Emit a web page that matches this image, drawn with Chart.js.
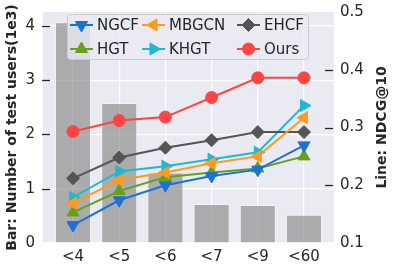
<!DOCTYPE html>
<html>
<head>
<meta charset="utf-8">
<script src="https://cdn.jsdelivr.net/npm/chart.js@4.4.0/dist/chart.umd.min.js"></script>
<style>
	html, body { margin: 0; padding: 0; background: #ffffff; }
	#wrap { width: 394px; height: 264px; }
</style>
</head>
<body>
<div id="wrap"><canvas id="myChart" width="394" height="264"></canvas></div>
<script>
// Data
const categories = ["<4", "<5", "<6", "<7", "<9", "<60"];
const users = [4.07, 2.58, 1.3, 0.72, 0.7, 0.52];
const ngcf = [0.131, 0.174, 0.2, 0.216, 0.227, 0.269];
const hgt = [0.153, 0.19, 0.214, 0.222, 0.229, 0.25];
const mbgcn = [0.169, 0.209, 0.222, 0.238, 0.25, 0.317];
const khgt = [0.179, 0.224, 0.233, 0.245, 0.257, 0.338];
const ehcf = [0.212, 0.248, 0.265, 0.278, 0.292, 0.292];
const ours = [0.293, 0.312, 0.318, 0.352, 0.386, 0.386];
const leftTicks = [0, 1, 2, 3, 4];
const rightTicks = [0.1, 0.2, 0.3, 0.4, 0.5];

const FONT = "'DejaVu Sans', sans-serif";
const TEXT = "#262626";

document.addEventListener("DOMContentLoaded", function () {
	const pts = (arr) => arr.map((v, i) => ({ x: i, y: v }));

	function lineSet(label, data, color, style, rotation, radius) {
		return {
			type: "line",
			label: label,
			data: pts(data),
			yAxisID: "y2",
			borderColor: color,
			backgroundColor: color,
			borderWidth: 2,
			pointStyle: style,
			rotation: rotation,
			pointRadius: radius,
			pointBorderWidth: 1,
			pointBorderColor: color,
			order: 1,
		};
	}

	const lines = [
		lineSet("NGCF", ngcf, "#1a73d2", "triangle", 180, 7),
		lineSet("MBGCN", mbgcn, "#ff9a1f", "triangle", 270, 7),
		lineSet("EHCF", ehcf, "#555555", "rectRot", 0, 6.5),
		lineSet("HGT", hgt, "#66a11c", "triangle", 0, 7),
		lineSet("KHGT", khgt, "#1fb8d3", "triangle", 90, 7),
		lineSet("Ours", ours, "#ff4444", "circle", 0, 6),
	];

	function marker(ctx, ds, x, y) {
		const opts = {
			pointStyle: ds.pointStyle,
			rotation: ds.rotation,
			radius: ds.pointRadius,
			borderWidth: 1,
		};
		ctx.fillStyle = ds.backgroundColor;
		ctx.strokeStyle = ds.borderColor;
		ctx.lineWidth = 1;
		Chart.helpers.drawPoint(ctx, opts, x, y);
	}

	// vertical scales: fixed width, no extra padding for the end labels
	function fixWidth(w) {
		return (s) => {
			s.width = w;
			s.paddingTop = 0;
			s.paddingBottom = 0;
		};
	}

	const extras = {
		id: "extras",
		afterDraw(chart) {
			const ctx = chart.ctx;
			const area = chart.chartArea;
			const y1 = chart.scales.y;
			const y2 = chart.scales.y2;
			ctx.save();

			// small tick marks like the original
			ctx.strokeStyle = TEXT;
			ctx.lineWidth = 1.3;
			leftTicks.slice(1).forEach((t) => {
				const py = Math.round(y1.getPixelForValue(t)) + 0.5;
				ctx.beginPath();
				ctx.moveTo(area.left - 1, py);
				ctx.lineTo(area.left + 7, py);
				ctx.stroke();
			});
			rightTicks.slice(1, -1).forEach((t) => {
				const py = Math.round(y2.getPixelForValue(t)) + 0.5;
				ctx.beginPath();
				ctx.moveTo(area.right - 9, py);
				ctx.lineTo(area.right - 1, py);
				ctx.stroke();
			});

			// axis titles
			ctx.fillStyle = TEXT;
			ctx.font = "bold 14px " + FONT;
			ctx.textAlign = "center";
			ctx.textBaseline = "middle";
			const midY = (area.top + area.bottom) / 2;
			ctx.save();
			ctx.translate(12, midY);
			ctx.rotate(-Math.PI / 2);
			ctx.fillText("Bar: Number of test users(1e3)", 0, 0);
			ctx.restore();
			ctx.save();
			ctx.translate(382, midY);
			ctx.rotate(-Math.PI / 2);
			ctx.fillText("Line: NDCG@10", 0, 0);
			ctx.restore();

			// legend inside the plot
			const bx = 67, by = 14, bw = 241, bh = 45;
			ctx.fillStyle = "rgba(234,234,242,0.8)";
			ctx.strokeStyle = "#cccccc";
			ctx.lineWidth = 1;
			ctx.beginPath();
			ctx.roundRect(bx + 0.5, by + 0.5, bw, bh, 3);
			ctx.fill();
			ctx.stroke();

			const cols = [70, 142, 237];
			const rows = [25, 49];
			ctx.font = "15px " + FONT;
			ctx.textAlign = "left";
			lines.forEach((ds, n) => {
				const cx = cols[n % 3];
				const cy = rows[Math.floor(n / 3)];
				ctx.strokeStyle = ds.borderColor;
				ctx.lineWidth = 2;
				ctx.beginPath();
				ctx.moveTo(cx, cy);
				ctx.lineTo(cx + 23, cy);
				ctx.stroke();
				marker(ctx, ds, cx + 11.5, cy);
				ctx.fillStyle = TEXT;
				ctx.fillText(ds.label, cx + 27, cy + 1);
			});
			ctx.restore();
		},
	};

	const ctx = document.getElementById("myChart").getContext("2d");
	const myChart = new Chart(ctx, {
		data: {
			datasets: [
				...lines,
				{
					type: "bar",
					label: "Users",
					data: pts(users),
					yAxisID: "y",
					backgroundColor: "rgba(128,128,128,0.6)",
					borderColor: "rgba(255,255,255,0.35)",
					borderWidth: 1,
					barPercentage: 0.78,
					categoryPercentage: 1,
					order: 10,
				},
			],
		},
		options: {
			responsive: false,
			animation: false,
			layout: { padding: { top: 12, left: 0, right: 0, bottom: 0 } },
			plugins: {
				legend: { display: false },
				tooltip: { enabled: false },
			},
			scales: {
				x: {
					type: "linear",
					offset: false,
					min: -0.65,
					max: 5.65,
					afterBuildTicks: (s) => {
						s.ticks = categories.map((c, i) => ({ value: i }));
					},
					afterFit: (s) => {
						s.height = 21;
					},
					ticks: {
						callback: (v) => categories[v],
						color: TEXT,
						font: { family: FONT, size: 15 },
						padding: 5,
						maxRotation: 0,
						autoSkip: false,
					},
					grid: { color: "#ffffff", lineWidth: 1.2, drawTicks: false, offset: false },
					border: { display: false },
				},
				y: {
					position: "left",
					min: 0,
					max: 4.258,
					afterBuildTicks: (s) => {
						s.ticks = leftTicks.map((v) => ({ value: v }));
					},
					afterFit: fixWidth(43),
					ticks: {
						color: TEXT,
						font: { family: FONT, size: 15 },
						padding: 8,
					},
					grid: { color: "#ffffff", lineWidth: 1.2, drawTicks: false },
					border: { display: false },
				},
				y2: {
					position: "right",
					min: 0.1,
					max: 0.5,
					afterBuildTicks: (s) => {
						s.ticks = rightTicks.map((v) => ({ value: v }));
					},
					afterFit: fixWidth(60),
					ticks: {
						callback: (v) => v.toFixed(1),
						color: TEXT,
						font: { family: FONT, size: 15 },
						padding: 6,
					},
					grid: { display: false, drawTicks: false },
					border: { display: false },
				},
			},
		},
		plugins: [
			{
				id: "plotBg",
				beforeDraw(chart) {
					const a = chart.chartArea;
					chart.ctx.save();
					chart.ctx.fillStyle = "#eaeaf2";
					chart.ctx.fillRect(a.left, a.top, a.right - a.left, a.bottom - a.top);
					chart.ctx.restore();
				},
			},
			extras,
		],
	});
});
</script>
</body>
</html>
